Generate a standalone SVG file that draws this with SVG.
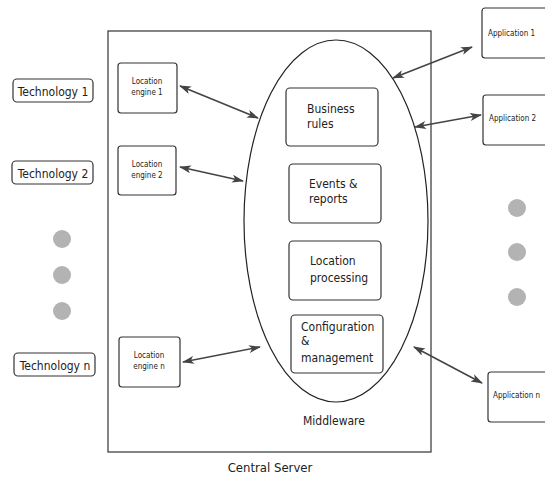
<svg xmlns="http://www.w3.org/2000/svg" width="545" height="480" viewBox="0 0 545 480">
<defs>
<marker id="ah" viewBox="0 0 12 8" refX="11" refY="4" markerWidth="13" markerHeight="8" markerUnits="userSpaceOnUse" orient="auto-start-reverse">
<path d="M0,0 L12,4 L0,8 L3,4 Z" fill="#444"/>
</marker>
<style>
.box{fill:#fff;stroke:#333;stroke-width:1.2}
.t{font-family:"DejaVu Sans Condensed","Liberation Sans Narrow","Liberation Sans",sans-serif;font-stretch:condensed;fill:#222}
.s{font-size:8px}
.m{font-size:12px}
.c{stroke:#444;stroke-width:1.6;fill:none;marker-start:url(#ah);marker-end:url(#ah)}
.dot{fill:#b3b3b3}
</style>
</defs>
<rect width="545" height="480" fill="#fff"/>
<g id="central-server">
<rect x="108" y="31" width="323" height="421" fill="none" stroke="#333" stroke-width="1.2"/>
<text class="t" x="270" y="472" font-size="13" text-anchor="middle">Central Server</text>
</g>
<g id="middleware">
<ellipse cx="336" cy="221" rx="92" ry="181" fill="none" stroke="#222" stroke-width="1.2"/>
<text class="t m" x="303" y="425">Middleware</text>
</g>
<g id="business-rules">
<rect class="box" x="286" y="88" width="92" height="58" rx="4"/>
<text class="t m" x="307" y="113">Business</text>
<text class="t m" x="307" y="128">rules</text>
</g>
<g id="events-reports">
<rect class="box" x="289" y="164" width="92" height="59" rx="4"/>
<text class="t m" x="309" y="188">Events &amp;</text>
<text class="t m" x="309" y="203">reports</text>
</g>
<g id="location-processing">
<rect class="box" x="289" y="241" width="92" height="59" rx="4"/>
<text class="t m" x="310" y="265">Location</text>
<text class="t m" x="310" y="282">processing</text>
</g>
<g id="configuration-management">
<rect class="box" x="291" y="315" width="92" height="58" rx="4"/>
<text class="t m" x="301" y="331">Configuration</text>
<text class="t m" x="301" y="345">&amp;</text>
<text class="t m" x="301" y="362">management</text>
</g>
<g id="technology-1">
<rect class="box" x="13" y="79" width="80" height="23" rx="4"/>
<text class="t" x="53" y="96" font-size="12" text-anchor="middle">Technology 1</text>
</g>
<g id="technology-2">
<rect class="box" x="12" y="161" width="81" height="23" rx="4"/>
<text class="t" x="53" y="178" font-size="12" text-anchor="middle">Technology 2</text>
</g>
<g id="technology-dots">
<circle class="dot" cx="62" cy="239" r="9"/>
<circle class="dot" cx="62" cy="275" r="9"/>
<circle class="dot" cx="62" cy="311" r="9"/>
</g>
<g id="technology-n">
<rect class="box" x="14" y="353" width="81" height="23" rx="4"/>
<text class="t" x="55" y="370" font-size="12" text-anchor="middle">Technology n</text>
</g>
<g id="location-engine-1">
<rect class="box" x="118" y="63" width="59" height="50" rx="3"/>
<text class="t s" x="147" y="84" text-anchor="middle">Location</text>
<text class="t s" x="147" y="95" text-anchor="middle">engine 1</text>
</g>
<g id="location-engine-2">
<rect class="box" x="118" y="146" width="58" height="49" rx="3"/>
<text class="t s" x="147" y="167" text-anchor="middle">Location</text>
<text class="t s" x="147" y="178" text-anchor="middle">engine 2</text>
</g>
<g id="location-engine-n">
<rect class="box" x="119" y="337" width="61" height="50" rx="3"/>
<text class="t s" x="149" y="358" text-anchor="middle">Location</text>
<text class="t s" x="149" y="369" text-anchor="middle">engine n</text>
</g>
<g id="application-1">
<rect class="box" x="482" y="8" width="75" height="50" rx="3"/>
<text class="t s" x="488" y="36">Application 1</text>
</g>
<g id="application-2">
<rect class="box" x="483" y="95" width="75" height="50" rx="3"/>
<text class="t s" x="489" y="121">Application 2</text>
</g>
<g id="application-dots">
<circle class="dot" cx="517" cy="208" r="9"/>
<circle class="dot" cx="517" cy="252" r="9"/>
<circle class="dot" cx="517" cy="297" r="9"/>
</g>
<g id="application-n">
<rect class="box" x="488" y="372" width="75" height="50" rx="3"/>
<text class="t s" x="493" y="398">Application n</text>
</g>
<g id="connectors">
<line class="c" x1="180" y1="86" x2="258" y2="118"/>
<line class="c" x1="180" y1="167" x2="243" y2="181"/>
<line class="c" x1="183" y1="362" x2="260" y2="347"/>
<line class="c" x1="393" y1="78" x2="472" y2="47"/>
<line class="c" x1="415" y1="127" x2="481" y2="115"/>
<line class="c" x1="414" y1="347" x2="482" y2="383"/>
</g>
</svg>
